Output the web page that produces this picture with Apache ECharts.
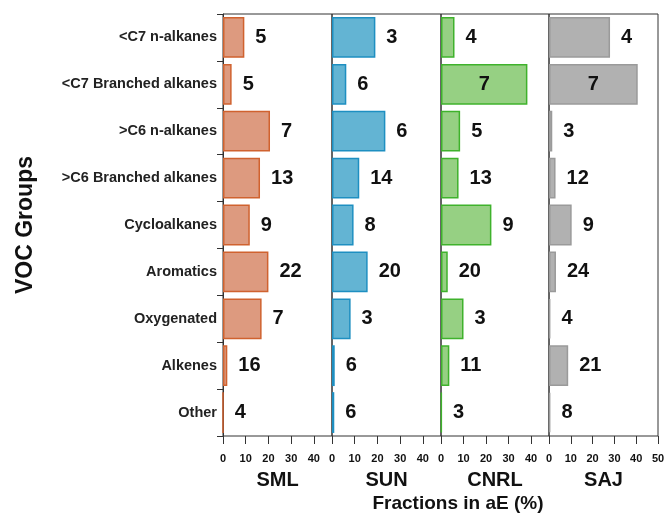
<!DOCTYPE html>
<html>
<head>
<meta charset="utf-8">
<script src="https://cdn.jsdelivr.net/npm/echarts@6/dist/echarts.min.js"></script>
<style>html,body{margin:0;padding:0;background:#fff}#c{width:668px;height:527px}</style>
</head>
<body>
<div id="c"></div>
<script>
const categories = ['<C7 n-alkanes', '<C7 Branched alkanes', '>C6 n-alkanes', '>C6 Branched alkanes', 'Cycloalkanes', 'Aromatics', 'Oxygenated', 'Alkenes', 'Other'];
const sites = ['SML', 'SUN', 'CNRL', 'SAJ'];
const smlValues = [9.4, 3.8, 20.7, 16.3, 11.8, 20, 17, 1.9, 0];
const sunValues = [19.1, 6.3, 23.5, 12, 9.5, 15.7, 8.2, 1.2, 1];
const cnrlValues = [6, 38.4, 8.5, 7.8, 22.4, 3, 10, 3.7, 0.3];
const sajValues = [28, 40.7, 1.5, 3, 10.4, 3.2, 0.6, 8.8, 0.6];
const smlLabels = [5, 5, 7, 13, 9, 22, 7, 16, 4];
const sunLabels = [3, 6, 6, 14, 8, 20, 3, 6, 6];
const cnrlLabels = [4, 7, 5, 13, 9, 20, 3, 11, 3];
const sajLabels = [4, 7, 3, 12, 9, 24, 4, 21, 8];
const axisMax = [48, 48, 48, 50];

const values = [smlValues, sunValues, cnrlValues, sajValues];
const labels = [smlLabels, sunLabels, cnrlLabels, sajLabels];
const fills = ['#dd9a7f', '#63b4d3', '#96d083', '#b1b1b1'];
const borders = ['#d0622f', '#1e8fc1', '#3fb22c', '#9a9a9a'];
const lefts = [223, 332, 441, 549];
const widths = [109, 109, 108, 109];
const FONT = 'Liberation Sans, Arial, sans-serif';

const grids = [], xAxes = [], yAxes = [], series = [];
sites.forEach((s, i) => {
  grids.push({left: lefts[i], width: widths[i], top: 14, height: 422, show: true, borderColor: '#333', borderWidth: 1, backgroundColor: 'transparent'});
  xAxes.push({
    type: 'value', gridIndex: i, min: 0, max: axisMax[i], interval: 10,
    name: s, nameLocation: 'middle', nameGap: 34,
    nameTextStyle: {fontFamily: FONT, fontWeight: 'bold', fontSize: 20, color: '#111'},
    axisLine: {show: false},
    axisTick: {show: true, length: 8, lineStyle: {color: '#333'}},
    axisLabel: {show: true, margin: 17, fontFamily: FONT, fontWeight: 'bold', fontSize: 11, color: '#111', showMaxLabel: i === 3},
    splitLine: {show: false}
  });
  yAxes.push({
    type: 'category', gridIndex: i, data: categories, inverse: true,
    axisLine: {show: i === 0, lineStyle: {color: '#333'}},
    axisTick: {show: i === 0, length: 6, lineStyle: {color: '#333'}},
    axisLabel: {show: i === 0, margin: 6, fontFamily: FONT, fontWeight: 'bold', fontSize: 14.5, color: '#222'}
  });
  series.push({
    type: 'bar', xAxisIndex: i, yAxisIndex: i, barCategoryGap: '13%',
    data: values[i].map((v, j) => ({
      value: v,
      label: {position: v > 30 ? 'inside' : 'right'}
    })),
    itemStyle: {color: fills[i], borderColor: borders[i], borderWidth: 1.5},
    label: {
      show: true, distance: 11, fontFamily: FONT, fontWeight: 'bold', fontSize: 20, color: '#111',
      formatter: p => String(labels[i][p.dataIndex])
    },
    animation: false
  });
});

const chart = echarts.init(document.getElementById('c'), null, {renderer: 'canvas'});
chart.setOption({
  animation: false,
  grid: grids, xAxis: xAxes, yAxis: yAxes, series: series,
  graphic: [
    {type: 'text', x: 458, y: 504, style: {text: 'Fractions in aE (%)', fontFamily: FONT, fontWeight: 'bold', fontSize: 19, fill: '#111', align: 'center', verticalAlign: 'middle'}},
    {type: 'text', x: 26, y: 225, rotation: Math.PI / 2, style: {text: 'VOC Groups', fontFamily: FONT, fontWeight: 'bold', fontSize: 23, fill: '#111', align: 'center', verticalAlign: 'middle'}}
  ]
});
</script>
</body>
</html>
